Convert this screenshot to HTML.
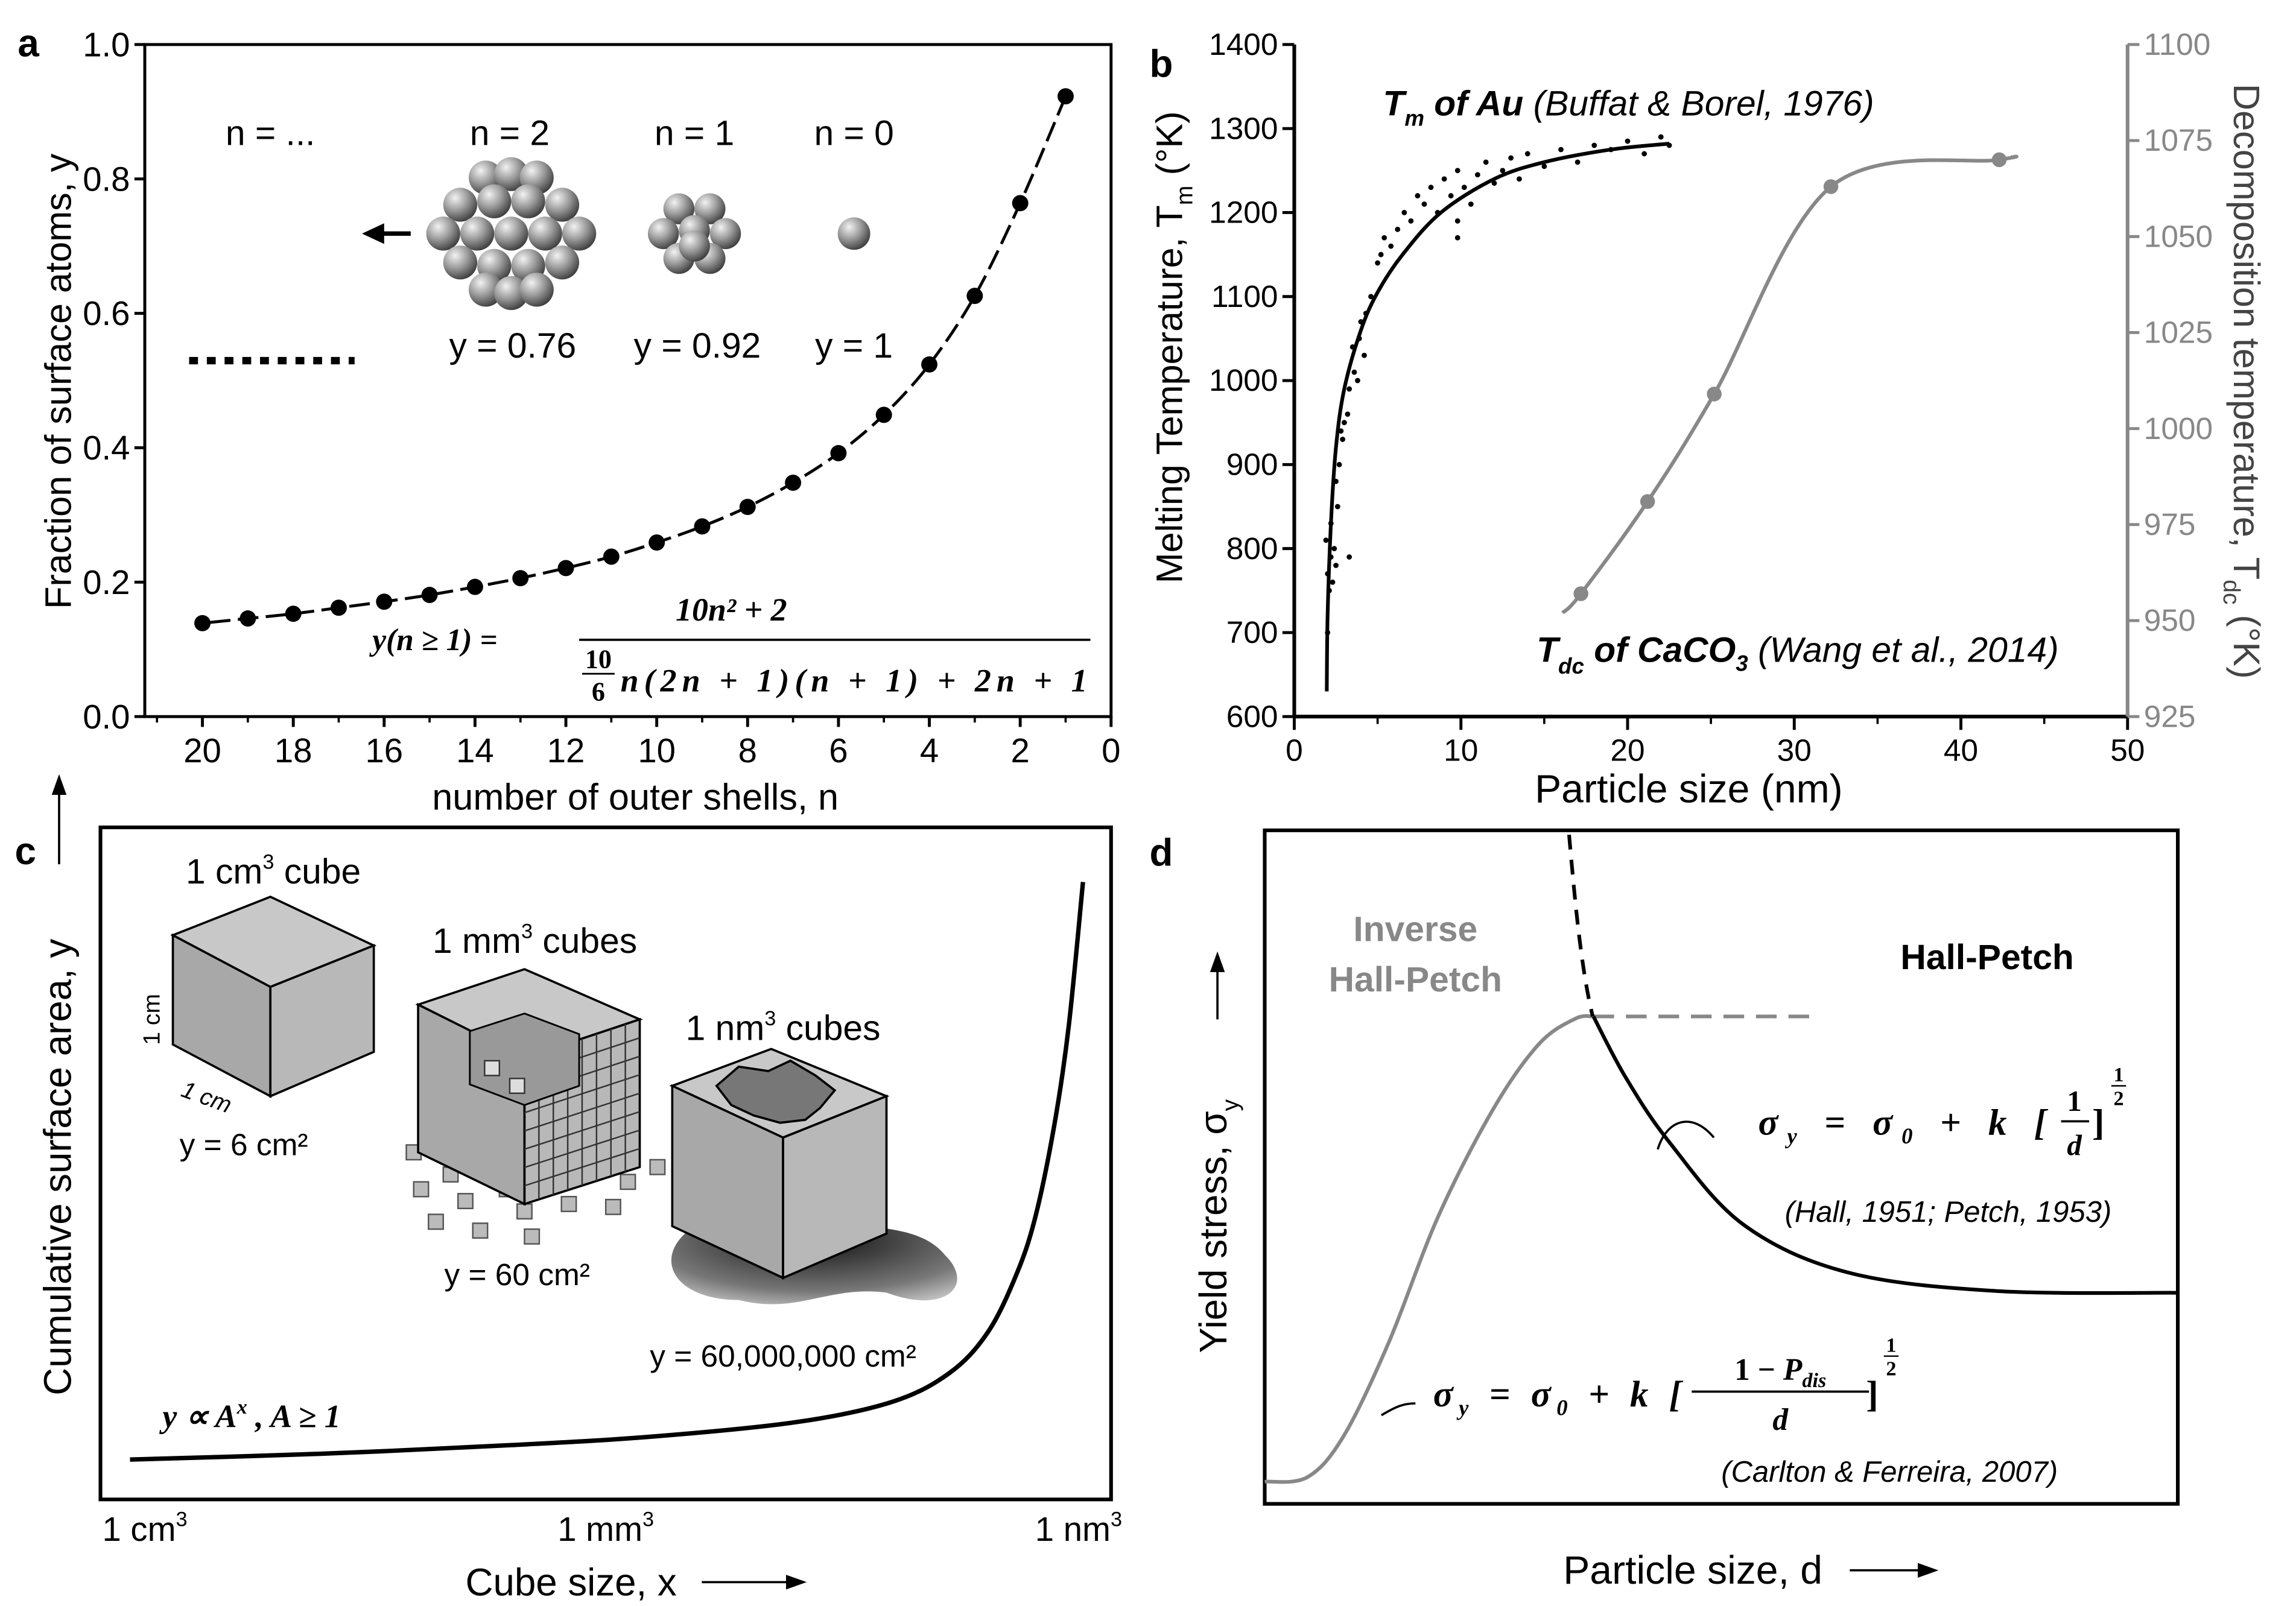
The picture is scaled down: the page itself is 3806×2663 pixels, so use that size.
<!DOCTYPE html>
<html><head><meta charset="utf-8">
<style>
html,body{margin:0;padding:0;background:#fff;}
svg{display:block;font-family:"Liberation Sans",sans-serif;}
</style></head>
<body>
<svg id="fig" width="3806" height="2663" viewBox="0 0 1554 1087" xmlns="http://www.w3.org/2000/svg">
<defs>
<radialGradient id="sph" cx="0.35" cy="0.3" r="0.75">
<stop offset="0" stop-color="#f2f2f2"/><stop offset="0.5" stop-color="#9a9a9a"/><stop offset="1" stop-color="#3a3a3a"/>
</radialGradient>
<radialGradient id="blob" cx="0.5" cy="0.3" r="0.8">
<stop offset="0" stop-color="#111"/><stop offset="0.7" stop-color="#777"/><stop offset="1" stop-color="#ccc"/>
</radialGradient>
</defs>
<g id="pa"></g>
<g id="pb"></g>
<g id="pc"></g>
<g id="pd"></g>
</svg>
<script>
// ---------- Panel a data ----------
const aShells = [1,2,3,4,5,6,7,8,9,10,11,12,13,14,15,16,17,18,19,20];
const aFraction = [0.923,0.764,0.626,0.524,0.449,0.392,0.348,0.312,0.283,0.259,0.238,0.221,0.206,0.193,0.181,0.171,0.162,0.153,0.146,0.139];
const aXTicks = [20,18,16,14,12,10,8,6,4,2,0];
const aYTicks = [0.0,0.2,0.4,0.6,0.8,1.0];
// ---------- Panel b data ----------
const bAuSize = [1.95,2.0,2.2,2.5,3,4,5,6.5,8.8,12,15,19,22.5];
const bAuFit = [630,720,830,920,990,1060,1105,1150,1200,1240,1260,1275,1282];
const bScatSize = [2.0,2.1,2.0,2.2,1.9,2.3,2.4,2.2,2.6,2.5,2.7,2.9,3.0,3.2,2.8,3.3,3.6,3.5,3.9,4.0,4.3,3.8,4.6,5.0,5.4,5.2,5.8,6.2,6.6,7.0,7.4,7.8,8.2,8.6,9.0,9.4,9.8,10.2,10.6,11.0,11.5,12.0,12.5,13.0,13.5,14.0,15.0,16.0,17.0,18.0,19.0,20.0,21.0,22.0,22.5,2.5,3.3,9.8,9.8,4.2];
const bScatT = [700,750,770,790,810,760,800,830,850,880,900,930,950,960,940,990,1010,1040,1050,1070,1080,1000,1100,1140,1170,1150,1160,1180,1200,1190,1220,1210,1230,1200,1240,1220,1250,1230,1210,1245,1260,1235,1250,1265,1240,1270,1255,1275,1260,1280,1275,1285,1270,1290,1280,780,790,1170,1190,1030];
const bCaSize = [17.2,21.2,25.2,32.2,42.3];
const bCaT = [957,981,1009,1063,1070];
const bXTicks = [0,10,20,30,40,50];
const bYTicks = [600,700,800,900,1000,1100,1200,1300,1400];
const bY2Ticks = [925,950,975,1000,1025,1050,1075,1100];
// ---------- Panel c data (schematic) ----------
const cX = [0,0.2,0.4,0.55,0.7,0.8,0.86,0.9,0.93,0.95,0.97,0.985,1.0];
const cY = [0,0.01,0.025,0.04,0.065,0.1,0.15,0.22,0.32,0.42,0.58,0.75,1.0];
// ---------- Panel d data (schematic) ----------
const dInvX = [0,0.047,0.087,0.136,0.19,0.25,0.3,0.34,0.36];
const dInvY = [0,0.01,0.1,0.3,0.57,0.8,0.94,0.995,1.0];
const dHPX = [0.36,0.395,0.443,0.524,0.638,0.8,1.0];
const dHPY = [1.0,0.87,0.73,0.553,0.45,0.41,0.406];

const NS="http://www.w3.org/2000/svg";
function mk(parent,tag,attrs,text){const e=document.createElementNS(NS,tag);for(const k in attrs)e.setAttribute(k,attrs[k]);if(text!==undefined)e.textContent=text;parent.appendChild(e);return e;}
function smooth(pts){let d="M"+pts[0][0]+","+pts[0][1];for(let i=0;i<pts.length-1;i++){const p0=pts[Math.max(0,i-1)],p1=pts[i],p2=pts[i+1],p3=pts[Math.min(pts.length-1,i+2)];const c1=[p1[0]+(p2[0]-p0[0])/6,p1[1]+(p2[1]-p0[1])/6],c2=[p2[0]-(p3[0]-p1[0])/6,p2[1]-(p3[1]-p1[1])/6];d+=" C"+c1[0]+","+c1[1]+" "+c2[0]+","+c2[1]+" "+p2[0]+","+p2[1];}return d;}

// ================= PANEL A =================
(function(){
const g=document.getElementById('pa');
const L=98,R=752,T=30,B=485;
const sx=n=>752-n*30.75, sy=v=>B-v*(B-T);
let e=mk(g,'rect',{x:L,y:T,width:R-L,height:B-T,fill:'none',stroke:'#000','stroke-width':2});

aXTicks.forEach(t=>{mk(g,'line',{x1:sx(t),x2:sx(t),y1:B,y2:B+7,stroke:'#000','stroke-width':2});
 e=mk(g,'text',{x:sx(t),y:B+31,'font-size':23,'text-anchor':'middle'},t);});
for(let n=1;n<=21;n+=2)mk(g,'line',{x1:sx(n),x2:sx(n),y1:B,y2:B+4,stroke:'#000','stroke-width':1.5});
aYTicks.forEach(t=>{mk(g,'line',{x1:L-7,x2:L,y1:sy(t),y2:sy(t),stroke:'#000','stroke-width':2});
 e=mk(g,'text',{x:L-10,y:sy(t)+8,'font-size':23,'text-anchor':'end'},t.toFixed(1));});
e=mk(g,'text',{x:430,y:548,'font-size':25,'text-anchor':'middle'},'number of outer shells, n');
e=mk(g,'text',{x:0,y:0,'font-size':25,'text-anchor':'middle',transform:'translate(48,258) rotate(-90)'},'Fraction of surface atoms, y');
e=mk(g,'text',{x:12,y:38,'font-size':26,'font-weight':'bold'},'a');
const pts=aShells.map((n,i)=>[sx(n),sy(aFraction[i])]);
e=mk(g,'path',{d:smooth(pts),fill:'none',stroke:'#000','stroke-width':2,'stroke-dasharray':'14,5'});
pts.forEach(p=>{e=mk(g,'circle',{cx:p[0],cy:p[1],r:5.5,fill:'#000'});});
[['n = ...',183],['n = 2',345],['n = 1',470],['n = 0',578]].forEach(a=>{e=mk(g,'text',{x:a[1],y:98,'font-size':24,'text-anchor':'middle'},a[0]);});
[['y = 0.76',347],['y = 0.92',472],['y = 1',578]].forEach(a=>{e=mk(g,'text',{x:a[1],y:242,'font-size':24,'text-anchor':'middle'},a[0]);});
e=mk(g,'line',{x1:128,x2:240,y1:244,y2:244,stroke:'#000','stroke-width':5,'stroke-dasharray':'6,6'});
mk(g,'line',{x1:258,x2:278,y1:158,y2:158,stroke:'#000','stroke-width':3});
mk(g,'polygon',{points:'245,158 260,151 260,165',fill:'#000'});
function cluster(cx,cy,r,offs){offs.forEach(o=>mk(g,'circle',{cx:cx+o[0]*r,cy:cy+o[1]*r,r:r,fill:'url(#sph)'}));}
mk(g,'circle',{cx:578,cy:158,r:11,fill:'url(#sph)'});
cluster(470,158,10.5,[[-1,-1.6],[1,-1.6],[-2,0],[0,-0.2],[2,0],[-1,1.6],[1,1.6],[0,0.8]]);
cluster(346,158,11.5,[[-1.5,-3.3],[0,-3.5],[1.5,-3.3],[-3,-1.7],[-1,-1.9],[1,-1.9],[3,-1.7],[-4,0],[-2,0],[0,0],[2,0],[4,0],[-3,1.7],[-1,1.9],[1,1.9],[3,1.7],[-1.5,3.3],[0,3.5],[1.5,3.3]]);
e=mk(g,'text',{x:252,y:440,'font-size':21,'font-family':'Liberation Serif, serif','font-weight':'bold','font-style':'italic'},'y(n ≥ 1) =');
mk(g,'text',{x:495,y:420,'font-size':22,'font-family':'Liberation Serif, serif','font-weight':'bold','font-style':'italic','text-anchor':'middle'},'10n² + 2');
mk(g,'line',{x1:392,x2:738,y1:433,y2:433,stroke:'#000','stroke-width':1.5});
mk(g,'text',{x:420,y:468,'font-size':22,'font-family':'Liberation Serif, serif','font-weight':'bold','font-style':'italic',textLength:316,lengthAdjust:'spacing'},'n(2n + 1)(n + 1) + 2n + 1');
mk(g,'text',{x:405,y:452,'font-size':18,'font-family':'Liberation Serif, serif','font-weight':'bold','text-anchor':'middle'},'10');
mk(g,'line',{x1:394,x2:416,y1:456,y2:456,stroke:'#000','stroke-width':1.2});
mk(g,'text',{x:405,y:474,'font-size':18,'font-family':'Liberation Serif, serif','font-weight':'bold','text-anchor':'middle'},'6');
})();

// ================= PANEL B =================
(function(){
const g=document.getElementById('pb');
const L=876,R=1440,T=30,B=485;
const sx=v=>L+v*(R-L)/50, sy=v=>B-(v-600)*(B-T)/800, sy2=v=>B-(v-925)*(B-T)/175;
let e=mk(g,'line',{x1:L,x2:R,y1:B,y2:B,stroke:'#000','stroke-width':2.5});
e=mk(g,'line',{x1:L,x2:L,y1:T,y2:B,stroke:'#000','stroke-width':2.5});
e=mk(g,'line',{x1:R,x2:R,y1:T,y2:B,stroke:'#888','stroke-width':2.5});
bXTicks.forEach(t=>{mk(g,'line',{x1:sx(t),x2:sx(t),y1:B,y2:B+9,stroke:'#000','stroke-width':2});
 e=mk(g,'text',{x:sx(t),y:B+30,'font-size':21,'text-anchor':'middle'},t);});
for(let t=5;t<50;t+=10)mk(g,'line',{x1:sx(t),x2:sx(t),y1:B,y2:B+5,stroke:'#000','stroke-width':1.5});
bYTicks.forEach(t=>{mk(g,'line',{x1:L-8,x2:L,y1:sy(t),y2:sy(t),stroke:'#000','stroke-width':2});
 e=mk(g,'text',{x:L-11,y:sy(t)+7,'font-size':21,'text-anchor':'end'},t);});
bY2Ticks.forEach(t=>{mk(g,'line',{x1:R,x2:R+8,y1:sy2(t),y2:sy2(t),stroke:'#888','stroke-width':2});
 e=mk(g,'text',{x:R+11,y:sy2(t)+7,'font-size':21,fill:'#888'},t);});
e=mk(g,'text',{x:1143,y:543,'font-size':27,'text-anchor':'middle'},'Particle size (nm)');
e=mk(g,'text',{x:0,y:0,'font-size':25,'text-anchor':'middle',transform:'translate(800,235) rotate(-90)'},'');e.innerHTML='Melting Temperature, T<tspan font-size="16" dy="7">m</tspan><tspan dy="-7"> (°K)</tspan>';
e=mk(g,'text',{x:0,y:0,'font-size':25,'text-anchor':'middle',fill:'#444',transform:'translate(1512,258) rotate(90)'},'');e.innerHTML='Decomposition temperature, T<tspan font-size="16" dy="7">dc</tspan><tspan dy="-7"> (°K)</tspan>';
e=mk(g,'text',{x:778,y:52,'font-size':26,'font-weight':'bold'},'b');
bScatSize.forEach((s,i)=>{e=mk(g,'circle',{cx:sx(s),cy:sy(bScatT[i]),r:1.8,fill:'#000'});});
e=mk(g,'path',{d:smooth(bAuSize.map((s,i)=>[sx(s),sy(bAuFit[i])])),fill:'none',stroke:'#000','stroke-width':2.5});
const cp=bCaSize.map((s,i)=>[sx(s),sy2(bCaT[i])]);
const cpe=[[sx(16.1),sy2(952)]].concat(cp).concat([[sx(43.1),sy2(1070.8)]]);
e=mk(g,'path',{d:smooth(cpe),fill:'none',stroke:'#888','stroke-width':2.5});
cp.forEach(p=>{e=mk(g,'circle',{cx:p[0],cy:p[1],r:5,fill:'#888'});});
e=mk(g,'text',{x:936,y:78,'font-size':24},'');
e.innerHTML='<tspan font-weight="bold" font-style="italic">T</tspan><tspan font-size="15" dy="7" font-style="italic" font-weight="bold">m</tspan><tspan dy="-7" font-weight="bold" font-style="italic"> of Au</tspan><tspan font-style="italic"> (Buffat &amp; Borel, 1976)</tspan>';
e=mk(g,'text',{x:1040,y:448,'font-size':24},'');
e.innerHTML='<tspan font-weight="bold" font-style="italic">T</tspan><tspan font-size="15" dy="8" font-style="italic" font-weight="bold">dc</tspan><tspan dy="-8" font-weight="bold" font-style="italic"> of CaCO</tspan><tspan font-size="15" dy="6" font-style="italic" font-weight="bold">3</tspan><tspan dy="-6" font-style="italic"> (Wang et al., 2014)</tspan>';
})();

// ================= PANEL C =================
(function(){
const g=document.getElementById('pc');
const L=68,R=752,T=560,B=1015;
let e=mk(g,'rect',{x:L,y:T,width:R-L,height:B-T,fill:'none',stroke:'#000','stroke-width':2.5});
const sx=v=>88+v*(733-88), sy=v=>988-v*(988-597);
e=mk(g,'path',{d:smooth(cX.map((x,i)=>[sx(x),sy(cY[i])])),fill:'none',stroke:'#000','stroke-width':3});
e=mk(g,'text',{x:10,y:585,'font-size':26,'font-weight':'bold'},'c');
[['1 cm',98],['1 mm',410],['1 nm',730]].forEach(a=>{e=mk(g,'text',{x:a[1],y:1043,'font-size':23,'text-anchor':'middle'},'');e.innerHTML=a[0]+'<tspan font-size="14" dy="-10">3</tspan>';});
e=mk(g,'text',{x:315,y:1080,'font-size':26},'Cube size, x');
mk(g,'line',{x1:475,x2:540,y1:1071,y2:1071,stroke:'#000','stroke-width':1.5});mk(g,'polygon',{points:'546,1071 532,1066 532,1076',fill:'#000'});
e=mk(g,'text',{x:0,y:0,'font-size':26,'text-anchor':'middle',transform:'translate(48,790) rotate(-90)'},'Cumulative surface area, y');
mk(g,'line',{x1:40,x2:40,y1:585,y2:530,stroke:'#000','stroke-width':1.5});mk(g,'polygon',{points:'40,524 35,538 45,538',fill:'#000'});
function cube(t,l,r,name){const c=mk(g,'g',{});
 mk(c,'polygon',{points:t,fill:'#c8c8c8',stroke:'#000','stroke-width':1.5});mk(c,'polygon',{points:l,fill:'#a8a8a8',stroke:'#000','stroke-width':1.5});mk(c,'polygon',{points:r,fill:'#b8b8b8',stroke:'#000','stroke-width':1.5});return c;}
cube('117,633 183,607 253,640 183,668','117,633 183,668 183,742 117,707','183,668 253,640 253,712 183,742','cube-1cm');
mk(g,'text',{x:185,y:598,'font-size':24,'text-anchor':'middle'},'').innerHTML='1 cm<tspan font-size="14" dy="-10">3</tspan><tspan dy="10"> cube</tspan>';
mk(g,'text',{x:0,y:0,'font-size':16,transform:'translate(108,690) rotate(-90)','text-anchor':'middle'},'1 cm');
mk(g,'text',{x:140,y:748,'font-size':16,'font-style':'italic','text-anchor':'middle',transform:'rotate(20,140,742)'},'1 cm');
mk(g,'text',{x:165,y:782,'font-size':21,'text-anchor':'middle'},'y = 6 cm²');
const sc=mk(g,'g',{});
[[275,775],[300,790],[325,775],[280,800],[310,808],[338,800],[360,790],[390,790],[420,795],[440,785],[290,822],[320,828],[350,815],[380,810],[410,812],[355,832],[300,770]].forEach(p=>{mk(sc,'rect',{x:p[0],y:p[1],width:10,height:10,fill:'#bbb',stroke:'#555','stroke-width':1});});
const c2=cube('283,680 355,656 433,690 355,716','283,680 355,716 355,815 283,780','355,716 433,690 433,790 355,815','cube-1mm');
for(let i=1;i<8;i++){const f=i/8;mk(c2,'line',{x1:355+78*f,y1:716-26*f,x2:355+78*f,y2:815-25*f,stroke:'#333','stroke-width':1});mk(c2,'line',{x1:355,y1:716+99*f,x2:433,y2:690+100*f,stroke:'#333','stroke-width':1});}
mk(c2,'polygon',{points:'318,698 355,686 392,700 392,735 355,748 318,734',fill:'#999',stroke:'#000','stroke-width':1.2});
mk(c2,'rect',{x:328,y:718,width:10,height:10,fill:'#ddd',stroke:'#333'});mk(c2,'rect',{x:345,y:730,width:10,height:10,fill:'#ddd',stroke:'#333'});
mk(g,'text',{x:362,y:645,'font-size':24,'text-anchor':'middle'},'').innerHTML='1 mm<tspan font-size="14" dy="-10">3</tspan><tspan dy="10"> cubes</tspan>';
mk(g,'text',{x:350,y:870,'font-size':21,'text-anchor':'middle'},'y = 60 cm²');
e=mk(g,'path',{d:'M470,830 C440,850 455,880 500,880 C540,890 560,870 600,875 C640,890 660,870 640,850 C620,825 580,835 540,820 Z',fill:'url(#blob)'});
const c3=cube('455,735 522,710 600,742 530,770','455,735 530,770 530,865 455,830','530,770 600,742 600,835 530,865','cube-1nm');
mk(c3,'path',{d:'M485,735 L500,722 L520,725 L535,718 L552,728 L565,738 L555,750 L545,758 L528,760 L510,755 L495,748 Z',fill:'#777',stroke:'#000','stroke-width':1.5});
mk(g,'text',{x:530,y:704,'font-size':24,'text-anchor':'middle'},'').innerHTML='1 nm<tspan font-size="14" dy="-10">3</tspan><tspan dy="10"> cubes</tspan>';
mk(g,'text',{x:530,y:925,'font-size':21,'text-anchor':'middle'},'y = 60,000,000 cm²');
e=mk(g,'text',{x:110,y:966,'font-size':22,'font-family':'Liberation Serif, serif','font-weight':'bold','font-style':'italic'},'');e.innerHTML='y ∝ A<tspan font-size="14" dy="-9">x</tspan><tspan dy="9"> , A ≥ 1</tspan>';
})();

// ================= PANEL D =================
(function(){
const g=document.getElementById('pd');
const L=856,R=1474,T=562,B=1018;
let e=mk(g,'rect',{x:L,y:T,width:R-L,height:B-T,fill:'none',stroke:'#000','stroke-width':2.5});
const sx=v=>L+v*(R-L), sy=v=>1003-v*(1003-688);
e=mk(g,'path',{d:smooth(dInvX.map((x,i)=>[sx(x),sy(dInvY[i])])),fill:'none',stroke:'#888','stroke-width':2.5});
e=mk(g,'line',{x1:sx(0.36),x2:sx(0.6),y1:sy(1.0),y2:sy(1.0),stroke:'#888','stroke-width':2.5,'stroke-dasharray':'14,8'});
e=mk(g,'path',{d:'M1062,565 C1066,610 1070,655 1078,688',fill:'none',stroke:'#000','stroke-width':2.5,'stroke-dasharray':'10,7'});
e=mk(g,'path',{d:smooth(dHPX.map((x,i)=>[sx(x),sy(dHPY[i])])),fill:'none',stroke:'#000','stroke-width':2.5});
e=mk(g,'text',{x:778,y:586,'font-size':26,'font-weight':'bold'},'d');
mk(g,'text',{x:958,y:637,'font-size':24,'font-weight':'bold',fill:'#888','text-anchor':'middle'},'Inverse');
mk(g,'text',{x:958,y:671,'font-size':24,'font-weight':'bold',fill:'#888','text-anchor':'middle'},'Hall-Petch');
mk(g,'text',{x:1345,y:656,'font-size':24,'font-weight':'bold','text-anchor':'middle'},'Hall-Petch');
e=mk(g,'text',{x:0,y:0,'font-size':26,'text-anchor':'middle',transform:'translate(830,830) rotate(-90)'},'');e.innerHTML='Yield stress, σ<tspan font-size="16" dy="8">y</tspan>';
mk(g,'line',{x1:824,x2:824,y1:690,y2:650,stroke:'#000','stroke-width':1.5});mk(g,'polygon',{points:'824,644 819,658 829,658',fill:'#000'});
e=mk(g,'text',{x:1058,y:1072,'font-size':27},'Particle size, d');
mk(g,'line',{x1:1252,x2:1305,y1:1063,y2:1063,stroke:'#000','stroke-width':1.5});mk(g,'polygon',{points:'1312,1063 1298,1058 1298,1068',fill:'#000'});
mk(g,'path',{d:'M1122,778 C1128,758 1145,752 1160,770',fill:'none',stroke:'#000','stroke-width':1.5});
mk(g,'path',{d:'M935,958 C945,952 950,950 958,950',fill:'none',stroke:'#000','stroke-width':1.5});
const ff='Liberation Serif, serif';
e=mk(g,'text',{x:1190,y:768,'font-size':25,'font-family':ff,'font-weight':'bold','font-style':'italic',textLength:195,lengthAdjust:'spacing'},'');e.innerHTML='σ<tspan font-size="15" dy="6">y</tspan><tspan dy="-6"> =  σ</tspan><tspan font-size="15" dy="6">0</tspan><tspan dy="-6"> + k [</tspan>';
mk(g,'text',{x:1404,y:752,'font-size':20,'font-family':ff,'font-weight':'bold','text-anchor':'middle'},'1');
mk(g,'line',{x1:1395,x2:1414,y1:759,y2:759,stroke:'#000','stroke-width':1.5});
mk(g,'text',{x:1404,y:782,'font-size':20,'font-family':ff,'font-weight':'bold','font-style':'italic','text-anchor':'middle'},'d');
mk(g,'text',{x:1416,y:768,'font-size':25,'font-family':ff,'font-weight':'bold'},']');
mk(g,'text',{x:1434,y:732,'font-size':14,'font-family':ff,'font-weight':'bold','text-anchor':'middle'},'1');
mk(g,'line',{x1:1429,x2:1439,y1:735,y2:735,stroke:'#000','stroke-width':1});
mk(g,'text',{x:1434,y:748,'font-size':14,'font-family':ff,'font-weight':'bold','text-anchor':'middle'},'2');
mk(g,'text',{x:1208,y:827,'font-size':20,'font-style':'italic'},'(Hall, 1951; Petch, 1953)');
e=mk(g,'text',{x:970,y:952,'font-size':25,'font-family':ff,'font-weight':'bold','font-style':'italic',textLength:168,lengthAdjust:'spacing'},'');e.innerHTML='σ<tspan font-size="15" dy="6">y</tspan><tspan dy="-6"> =  σ</tspan><tspan font-size="15" dy="6">0</tspan><tspan dy="-6"> + k [</tspan>';
mk(g,'text',{x:1205,y:934,'font-size':21,'font-family':ff,'font-weight':'bold','text-anchor':'middle'},'').innerHTML='1 − <tspan font-style="italic">P</tspan><tspan font-size="14" dy="5" font-style="italic">dis</tspan>';
mk(g,'line',{x1:1145,x2:1265,y1:942,y2:942,stroke:'#000','stroke-width':1.5});
mk(g,'text',{x:1205,y:968,'font-size':21,'font-family':ff,'font-weight':'bold','font-style':'italic','text-anchor':'middle'},'d');
mk(g,'text',{x:1263,y:952,'font-size':25,'font-family':ff,'font-weight':'bold'},']');
mk(g,'text',{x:1280,y:915,'font-size':14,'font-family':ff,'font-weight':'bold','text-anchor':'middle'},'1');
mk(g,'line',{x1:1275,x2:1285,y1:918,y2:918,stroke:'#000','stroke-width':1});
mk(g,'text',{x:1280,y:931,'font-size':14,'font-family':ff,'font-weight':'bold','text-anchor':'middle'},'2');
mk(g,'text',{x:1165,y:1003,'font-size':20,'font-style':'italic'},'(Carlton & Ferreira, 2007)');
})();
</script>
</body></html>
